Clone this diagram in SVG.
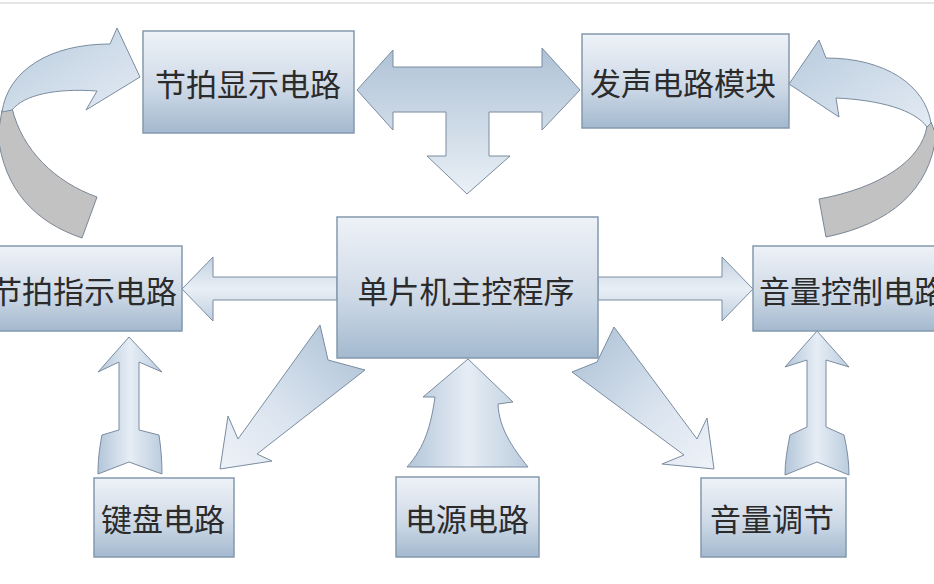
<svg xmlns="http://www.w3.org/2000/svg" width="934" height="584" viewBox="0 0 934 584">
<defs>
<linearGradient id="gBox" x1="0" y1="0" x2="0" y2="1">
<stop offset="0" stop-color="#eef2f8"/>
<stop offset="0.55" stop-color="#cfdae7"/>
<stop offset="1" stop-color="#a3b9cf"/>
</linearGradient>
<linearGradient id="gV" x1="0" y1="0" x2="0" y2="1">
<stop offset="0" stop-color="#aec2d6"/>
<stop offset="1" stop-color="#eaf0f6"/>
</linearGradient>
<linearGradient id="gH" x1="0" y1="0" x2="1" y2="0">
<stop offset="0" stop-color="#b3c6d9"/>
<stop offset="0.5" stop-color="#e6edf5"/>
<stop offset="1" stop-color="#bccdde"/>
</linearGradient>
<linearGradient id="gShaft" x1="0" y1="0" x2="0" y2="1">
<stop offset="0" stop-color="#c3d2e1"/>
<stop offset="0.5" stop-color="#e9eff6"/>
<stop offset="1" stop-color="#bfcfe0"/>
</linearGradient>
<linearGradient id="gDiag" x1="0" y1="0" x2="1" y2="1">
<stop offset="0" stop-color="#a9bfd4"/>
<stop offset="0.6" stop-color="#dbe4ef"/>
<stop offset="1" stop-color="#eef2f8"/>
</linearGradient>
<linearGradient id="gDiag2" x1="1" y1="0" x2="0" y2="1">
<stop offset="0" stop-color="#a9bfd4"/>
<stop offset="0.6" stop-color="#dbe4ef"/>
<stop offset="1" stop-color="#eef2f8"/>
</linearGradient>
<linearGradient id="gCurve" x1="0" y1="0" x2="1" y2="1">
<stop offset="0" stop-color="#b8cbdd"/>
<stop offset="1" stop-color="#e4ebf4"/>
</linearGradient>
</defs>
<style>
.box{fill:url(#gBox);stroke:#8599ad;stroke-width:1.5}
.lbl{font-family:"Noto Sans CJK SC","Noto Sans",sans-serif;font-size:31px;fill:#2b2b2b;text-anchor:middle;dominant-baseline:central}
.arr{stroke:#7a8ca0;stroke-width:1;stroke-linejoin:miter}
.back{fill:#c2c2c2;stroke:#7a8796;stroke-width:1}
</style>
<rect width="934" height="584" fill="#ffffff"/>
<line x1="0" y1="3" x2="934" y2="3" stroke="#dcdcdc" stroke-width="1.5"/>

<g id="connectors">
<!-- T arrow between top boxes, down to main -->
<polygon class="arr" fill="url(#gV)" points="357,90 393,50 393,67 542,67 542,48 580,90 542,130 542,112 489,112 489,156 510,156 467,194 427,156 446,156 446,112 393,112 393,130"/>
<!-- main -> 节拍指示电路 -->
<polygon class="arr" fill="url(#gShaft)" points="182,289 213,257 213,277 337,277 337,300 213,300 213,321"/>
<!-- main -> 音量控制电路 -->
<polygon class="arr" fill="url(#gShaft)" points="598,277 722,277 722,257 753,289 722,321 722,300 598,300"/>
<!-- 键盘电路 -> 节拍指示电路 -->
<path class="arr" fill="url(#gH)" d="M129,337 L98,372 L119,362 L119,430 L102,435 C99,450 98,462 98,474 L129,462 L162,474 C162,462 161,448 159,435 L139,430 L139,362 L162,372 Z"/>
<!-- 音量调节 -> 音量控制电路 -->
<path class="arr" fill="url(#gH)" d="M817,331 L785,367 L807,360 L807,427 L790,435 C787,450 785,462 785,475 L817,462 L849,475 C849,462 847,448 844,435 L826,427 L826,360 L849,367 Z"/>
<!-- 电源电路 -> main -->
<path class="arr" fill="url(#gH)" d="M468,359 L423,397 L435,397 C431,425 425,447 407,467 L528,467 C512,447 499,428 498,404 L513,402 Z"/>
<!-- main -> 键盘电路 -->
<polygon class="arr" fill="url(#gDiag2)" points="320,325 328,360 365,370 257,454 272,461 220,469 228,416 238,439"/>
<!-- main -> 音量调节 -->
<polygon class="arr" fill="url(#gDiag)" points="614,327 597,362 572,372 684,455 662,464 714,469 707,418 697,439"/>
<!-- left curved arrow -->
<path class="back" d="M12,108 C22,150 55,182 97,197 L82,238 C35,222 4,190 -2,135 L2,110 Z"/>
<path class="arr" fill="url(#gCurve)" d="M2,112 C8,70 50,44 110,44 L117,28 L140,77 L86,110 L97,91 C55,88 24,95 12,110 Z"/>
<!-- right curved arrow -->
<path class="back" d="M927,126 C922,160 880,188 819,199 L826,237 C890,224 930,190 936,135 L931,122 Z"/>
<path class="arr" fill="url(#gCurve)" d="M931,123 C925,85 885,58 826,58 L819,40 L789,84 L839,117 L836,98 C880,100 915,110 927,127 Z"/>
</g>

<g id="n-beat-display">
<rect class="box" x="143" y="31" width="211" height="102"/>
<text class="lbl" x="248" y="82">节拍显示电路</text>
</g>
<g id="n-sound">
<rect class="box" x="582" y="34" width="207" height="94"/>
<text class="lbl" x="683" y="81">发声电路模块</text>
</g>
<g id="n-beat-indicator">
<rect class="box" x="-8" y="246" width="190" height="85"/>
<text class="lbl" x="84" y="289">节拍指示电路</text>
</g>
<g id="n-mcu">
<rect class="box" x="337" y="217" width="261" height="141"/>
<text class="lbl" x="466" y="289">单片机主控程序</text>
</g>
<g id="n-volume-control">
<rect class="box" x="753" y="246" width="190" height="85"/>
<text class="lbl" x="852" y="289">音量控制电路</text>
</g>
<g id="n-keyboard">
<rect class="box" x="94" y="478" width="140" height="79"/>
<text class="lbl" x="163" y="517">键盘电路</text>
</g>
<g id="n-power">
<rect class="box" x="396" y="477" width="143" height="80"/>
<text class="lbl" x="467" y="517">电源电路</text>
</g>
<g id="n-volume-adjust">
<rect class="box" x="701" y="478" width="145" height="79"/>
<text class="lbl" x="772" y="517">音量调节</text>
</g>
</svg>
